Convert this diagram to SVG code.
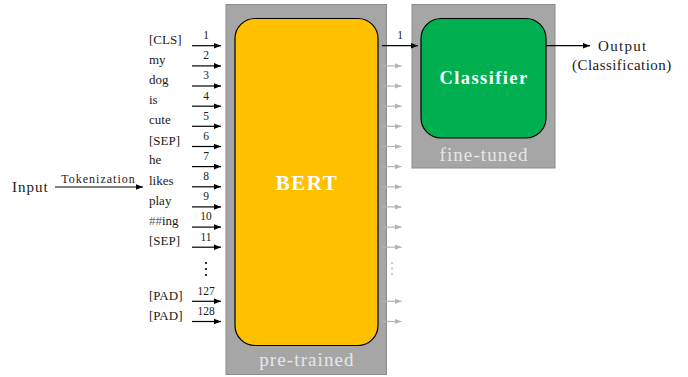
<svg xmlns="http://www.w3.org/2000/svg" width="688" height="377" viewBox="0 0 688 377">
  <defs>
    <marker id="ah" viewBox="0 0 10 10" refX="10" refY="5" markerWidth="7" markerHeight="7" markerUnits="userSpaceOnUse" orient="auto">
      <path d="M0,1 L10,5 L0,9 z" fill="#000"/>
    </marker>
    <marker id="ahg" viewBox="0 0 10 10" refX="10" refY="5" markerWidth="7" markerHeight="7" markerUnits="userSpaceOnUse" orient="auto">
      <path d="M0,1 L10,5 L0,9 z" fill="#b4b4b4"/>
    </marker>
    <style>
      text { font-family: 'Liberation Serif', 'Times New Roman', 'DejaVu Serif', serif; fill: #1a1a1a; }
      .tok { font-size: 13px; }
      .num { font-size: 11.5px; text-anchor: middle; }
      .lbl { font-size: 15px; }
      .panel { fill: #a6a6a6; stroke: #8c8c8c; stroke-width: 1; }
      .tag { font-size: 19px; fill: #e6e6e6; text-anchor: middle; letter-spacing: 1.1px; }
      .title { font-weight: bold; fill: #fff; text-anchor: middle; }
      .in { stroke: #000; stroke-width: 1.2; fill: none; marker-end: url(#ah); }
      .out { stroke: #b4b4b4; stroke-width: 1.2; fill: none; marker-end: url(#ahg); }
      .dots { fill: #000; }
      .gdots { fill: #b4b4b4; }
    </style>
  </defs>

  <!-- BERT block (pre-trained) -->
  <g id="bert">
    <rect class="panel" x="226" y="4.5" width="160.5" height="370"/>
    <rect x="235" y="18.5" width="143" height="327" rx="20" fill="#ffc000" stroke="#000" stroke-width="1.2"/>
    <text class="title" x="307" y="190" style="font-size:21px;letter-spacing:1.5px">BERT</text>
    <text class="tag" x="307" y="366">pre-trained</text>
  </g>

  <!-- Classifier block (fine-tuned) -->
  <g id="classifier">
    <rect class="panel" x="412" y="4.5" width="143" height="163.5"/>
    <rect x="421" y="18.5" width="125" height="119.5" rx="20" fill="#00b050" stroke="#000" stroke-width="1.2"/>
    <text class="title" x="484" y="84" style="font-size:18.5px;letter-spacing:1.4px">Classifier</text>
    <text class="tag" x="484" y="160.5">fine-tuned</text>
  </g>

  <!-- Input and output labels -->
  <g id="input">
    <text class="lbl" x="12" y="191.5" style="letter-spacing:1px">Input</text>
  </g>
  <g id="output">
    <text class="lbl" x="598" y="51" style="letter-spacing:1.3px">Output</text>
    <text class="lbl" x="572" y="70" style="letter-spacing:0.45px">(Classification)</text>
  </g>

  <!-- Token labels -->
  <g id="tokens">
    <text class="tok" x="149" y="44">[CLS]</text>
    <text class="tok" x="149" y="63.5">my</text>
    <text class="tok" x="149" y="84">dog</text>
    <text class="tok" x="149" y="104">is</text>
    <text class="tok" x="149" y="124">cute</text>
    <text class="tok" x="149" y="144.5">[SEP]</text>
    <text class="tok" x="149" y="164">he</text>
    <text class="tok" x="149" y="184.5">likes</text>
    <text class="tok" x="149" y="204.5">play</text>
    <text class="tok" x="149" y="225"><tspan fill="#666">##</tspan>ing</text>
    <text class="tok" x="149" y="245">[SEP]</text>
    <text class="tok" x="149" y="299.5">[PAD]</text>
    <text class="tok" x="149" y="320">[PAD]</text>
  </g>

  <!-- Connectors -->
  <g id="connectors">
    <line class="in" x1="55" y1="187" x2="143" y2="187"/>
    <text x="98.5" y="183" style="font-size:12px;letter-spacing:1px;text-anchor:middle">Tokenization</text>

    <line class="in" x1="192" y1="45.7" x2="221" y2="45.7"/>
    <line class="in" x1="192" y1="65.9" x2="221" y2="65.9"/>
    <line class="in" x1="192" y1="86" x2="221" y2="86"/>
    <line class="in" x1="192" y1="106.2" x2="221" y2="106.2"/>
    <line class="in" x1="192" y1="126.3" x2="221" y2="126.3"/>
    <line class="in" x1="192" y1="146.5" x2="221" y2="146.5"/>
    <line class="in" x1="192" y1="166.6" x2="221" y2="166.6"/>
    <line class="in" x1="192" y1="186.8" x2="221" y2="186.8"/>
    <line class="in" x1="192" y1="206.9" x2="221" y2="206.9"/>
    <line class="in" x1="192" y1="227.1" x2="221" y2="227.1"/>
    <line class="in" x1="192" y1="247.2" x2="221" y2="247.2"/>
    <line class="in" x1="192" y1="301.3" x2="221" y2="301.3"/>
    <line class="in" x1="192" y1="321.5" x2="221" y2="321.5"/>

    <text class="num" x="206" y="39">1</text>
    <text class="num" x="206" y="59">2</text>
    <text class="num" x="206" y="79">3</text>
    <text class="num" x="206" y="99.5">4</text>
    <text class="num" x="206" y="119.5">5</text>
    <text class="num" x="206" y="139.5">6</text>
    <text class="num" x="206" y="160">7</text>
    <text class="num" x="206" y="180">8</text>
    <text class="num" x="206" y="200">9</text>
    <text class="num" x="206" y="220">10</text>
    <text class="num" x="206" y="240.5">11</text>
    <text class="num" x="206" y="294.5">127</text>
    <text class="num" x="206" y="314.5">128</text>

    <circle class="dots" cx="206" cy="263" r="1.1"/>
    <circle class="dots" cx="206" cy="269" r="1.1"/>
    <circle class="dots" cx="206" cy="275" r="1.1"/>

    <!-- BERT outputs: only [CLS] goes on to the classifier -->
    <line class="in" x1="382" y1="45.7" x2="418" y2="45.7"/>
    <text class="num" x="400" y="38.5">1</text>

    <line class="out" x1="382" y1="65.9" x2="401.5" y2="65.9"/>
    <line class="out" x1="382" y1="86" x2="401.5" y2="86"/>
    <line class="out" x1="382" y1="106.2" x2="401.5" y2="106.2"/>
    <line class="out" x1="382" y1="126.3" x2="401.5" y2="126.3"/>
    <line class="out" x1="382" y1="146.5" x2="401.5" y2="146.5"/>
    <line class="out" x1="382" y1="166.6" x2="401.5" y2="166.6"/>
    <line class="out" x1="382" y1="186.8" x2="401.5" y2="186.8"/>
    <line class="out" x1="382" y1="206.9" x2="401.5" y2="206.9"/>
    <line class="out" x1="382" y1="227.1" x2="401.5" y2="227.1"/>
    <line class="out" x1="382" y1="247.2" x2="401.5" y2="247.2"/>
    <line class="out" x1="382" y1="301.3" x2="401.5" y2="301.3"/>
    <line class="out" x1="382" y1="321.5" x2="401.5" y2="321.5"/>

    <circle class="gdots" cx="392" cy="263" r="0.9"/>
    <circle class="gdots" cx="392" cy="268.5" r="0.9"/>
    <circle class="gdots" cx="392" cy="274" r="0.9"/>

    <line class="in" x1="546" y1="45.7" x2="590" y2="45.7"/>
  </g>
</svg>
